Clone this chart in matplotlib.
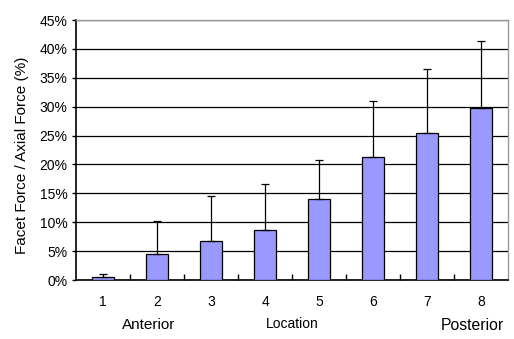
import matplotlib
matplotlib.use("Agg")
import matplotlib.pyplot as plt
from matplotlib.ticker import FuncFormatter, FixedLocator

categories = ["1", "2", "3", "4", "5", "6", "7", "8"]
values = [0.57, 4.55, 6.75, 8.7, 13.95, 21.3, 25.5, 29.7]
err_top = [1.1, 10.15, 14.5, 16.55, 20.75, 30.95, 36.6, 41.3]
errors = [t - v for t, v in zip(err_top, values)]
yticks = [0, 5, 10, 15, 20, 25, 30, 35, 40, 45]

plt.rcParams['font.family'] = ['Liberation Sans', 'DejaVu Sans']

fig = plt.figure(figsize=(5.14, 3.39), dpi=100)
ax = fig.add_axes([76/514, 1 - 280/339, 432/514, 260/339])

x = list(range(len(categories)))
ax.bar(x, values, width=0.4, color='#9999FF', edgecolor='black', linewidth=0.9, zorder=3)
ax.errorbar(x, values, yerr=[[0]*len(errors), errors], fmt='none', ecolor='black',
            elinewidth=0.9, capsize=3, capthick=0.9, zorder=4)

ax.set_xlim(-0.5, len(categories) - 0.5)
ax.set_ylim(0, 45)
ax.set_yticks(yticks)
ax.yaxis.set_major_formatter(FuncFormatter(lambda v, p: f"{int(v)}%"))
ax.yaxis.grid(True, color='black', linewidth=0.9, zorder=0)
ax.set_xticks(x)
ax.set_xticklabels(categories, fontsize=10)
ax.xaxis.set_minor_locator(FixedLocator([i + 0.5 for i in range(len(categories) - 1)]))
ax.tick_params(axis='x', which='major', length=0, pad=11)
ax.tick_params(axis='x', which='minor', direction='in', length=4, width=1)
ax.tick_params(axis='y', labelsize=10, length=3, width=1, direction='out', pad=3)

for s in ['top', 'right']:
    ax.spines[s].set_color('#999999')
    ax.spines[s].set_linewidth(1)
for s in ['left', 'bottom']:
    ax.spines[s].set_color('black')
    ax.spines[s].set_linewidth(1.2)

fig.text(22/514, 1 - 155/339, "Facet Force / Axial Force (%)", rotation=90,
         ha='center', va='center', fontsize=11)

fig.text(149/514, 1 - 325/339, "Anterior", ha='center', va='center', fontsize=11)
fig.text(292/514, 1 - 324/339, "Location", ha='center', va='center', fontsize=10)
fig.text(472/514, 1 - 325/339, "Posterior", ha='center', va='center', fontsize=11.3)

fig.savefig("out.png", dpi=100)
